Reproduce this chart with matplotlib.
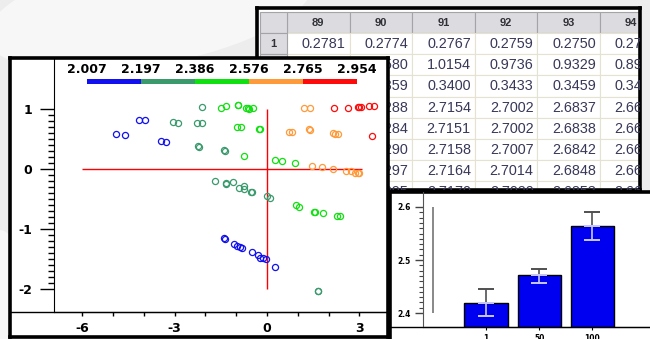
import numpy as np
import matplotlib
matplotlib.use("Agg")
from matplotlib import pyplot as plt, patches
from matplotlib.colors import ListedColormap, BoundaryNorm
from matplotlib.cm import ScalarMappable
from matplotlib.ticker import FixedLocator

plt.rcParams['font.family'] = 'DejaVu Sans'
plt.rcParams['axes.unicode_minus'] = False

# --- data -----------------------------------------------------------
# table (columns 89..94, rows 1..8)
table_cols = ['89', '90', '91', '92', '93', '94']
table_rows = ['1', '2', '3', '4', '5', '6', '7', '8']
col_89 = [0.2781, 1.1007, 0.3318, 2.7412, 2.7409, 2.7415, 2.7422, 2.7431]
col_90 = [0.2774, 1.0580, 0.3359, 2.7288, 2.7284, 2.7290, 2.7297, 2.7295]
col_91 = [0.2767, 1.0154, 0.3400, 2.7154, 2.7151, 2.7158, 2.7164, 2.7170]
col_92 = [0.2759, 0.9736, 0.3433, 2.7002, 2.7002, 2.7007, 2.7014, 2.7020]
col_93 = [0.2750, 0.9329, 0.3459, 2.6837, 2.6838, 2.6842, 2.6848, 2.6853]
col_94 = [0.2741, 0.8931, 0.3478, 2.6662, 2.6663, 2.6667, 2.6673, 2.6679]
table_vals = [col_89, col_90, col_91, col_92, col_93, col_94]

# scatter: colour class 0..4 follows the colour bar
cbar_bounds = [2.007, 2.197, 2.386, 2.576, 2.765, 2.954]
cbar_colors = ['#1010f0', '#3a9a6c', '#10e010', '#ff9a3a', '#ff0a0a']
pt_x = [-4.90, -4.60, -4.16, -3.98, -3.45, -3.28,
        -1.40, -1.38, -1.07, -0.97, -0.88, -0.80, -0.49, -0.30, -0.23, -0.14, -0.04, 0.27,
        -2.11, -3.04, -2.89, -2.29, -2.10, -2.23, -2.21, -1.39, -1.37, -1.68, -1.34, -1.33,
        -1.11, -0.92, -0.76, -0.75, -0.51, -0.49, -0.01, 0.10, 1.64, 1.66,
        -1.49, -1.33, -0.95, -0.93, -0.68, -0.61, -0.58, -0.47, -0.97, -0.84, -0.25, -0.23,
        -0.76, 0.26, 0.50, 0.91, 0.95, 1.04, 1.54, 1.56, 1.83, 2.27, 2.38,
        1.21, 1.41, 0.73, 0.80, 1.37, 1.39, 2.14, 2.22, 2.29, 1.46, 1.78, 2.14, 2.57, 2.73,
        2.87, 2.94, 2.98,
        2.18, 2.64, 2.94, 3.00, 3.05, 3.30, 3.49, 3.41]
pt_y = [0.59, 0.57, 0.82, 0.82, 0.48, 0.45,
        -1.14, -1.16, -1.24, -1.27, -1.29, -1.31, -1.38, -1.42, -1.48, -1.48, -1.50, -1.62,
        1.04, 0.79, 0.77, 0.77, 0.77, 0.39, 0.38, 0.32, 0.31, -0.19, -0.23, -0.25,
        -0.21, -0.31, -0.28, -0.33, -0.37, -0.38, -0.44, -0.47, -2.03, -2.03,
        1.03, 1.06, 1.08, 1.08, 1.02, 1.03, 1.01, 1.03, 0.71, 0.71, 0.68, 0.68,
        0.23, 0.16, 0.14, 0.10, -0.60, -0.62, -0.71, -0.71, -0.73, -0.78, -0.78,
        1.03, 1.03, 0.63, 0.63, 0.67, 0.66, 0.61, 0.59, 0.59, 0.06, 0.04, 0.00, -0.02, -0.02,
        -0.06, -0.06, -0.06,
        1.02, 1.02, 1.04, 1.04, 1.04, 1.06, 1.06, 0.55]
pt_lvl = [0] * 18 + [1] * 22 + [2] * 23 + [3] * 17 + [4] * 8

# bar chart
bar_labels = ['1', '50', '100']
bar_vals = [2.419, 2.472, 2.564]
err_up = [0.026, 0.011, 0.027]
err_dn = [0.025, 0.015, 0.026]

# --- layout helpers (pixel boxes) -----------------------------------
W, H = 650, 339
def box(x0, y0, x1, y1):
    return [x0 / W, 1 - y1 / H, (x1 - x0) / W, (y1 - y0) / H]

fig = plt.figure(figsize=(W / 100, H / 100), dpi=100)
fig.patch.set_facecolor('#ededed')

# soft background
bg = fig.add_axes([0, 0, 1, 1], zorder=0)
bg.set_xlim(0, W)
bg.set_ylim(H, 0)
bg.axis('off')
bg.add_patch(patches.Ellipse((150, 10), 330, 110, angle=-10, color='white', alpha=0.6, lw=0))
bg.add_patch(patches.Ellipse((0, 330), 60, 200, color='#f7f7f7', lw=0))

# --- table ----------------------------------------------------------
tab = fig.add_axes(box(257, 8, 640, 190), zorder=1)
tab.set_xlim(0, 383)
tab.set_ylim(182, 0)
tab.set_xticks([])
tab.set_yticks([])
for s in tab.spines.values():
    s.set_linewidth(2.6)
cw, rh, x0, y0 = 62.6, 21.2, 30, 25
for j, name in enumerate(table_cols):
    xc = x0 + j * cw
    tab.add_patch(patches.Rectangle((xc, 4), cw, y0 - 4, fc='#dcdce0', ec='#a4a4a8', lw=0.8))
    tab.text(xc + cw / 2, 14.5, name, ha='center', va='center', fontsize=8,
             family='Liberation Sans', weight='bold', color='#303038', clip_on=True)
    for i, v in enumerate(table_vals[j]):
        yr = y0 + i * rh
        tab.add_patch(patches.Rectangle((xc, yr), cw, rh, fc='white', ec='#e6e2d2', lw=0.8))
        tab.text(xc + cw - 4, yr + rh / 2 + 0.5, f'{v:.4f}', ha='right', va='center',
                 fontsize=10.4, family='Liberation Sans', color='#383858', clip_on=True)
tab.add_patch(patches.Rectangle((3, 4), x0 - 3, y0 - 4, fc='#dcdce0', ec='#a4a4a8', lw=0.8))
for i, r in enumerate(table_rows):
    yr = y0 + i * rh
    tab.add_patch(patches.Rectangle((3, yr), x0 - 3, rh, fc='#dcdce0', ec='#a4a4a8', lw=0.8))
    tab.text(16.5, yr + rh / 2, r, ha='center', va='center', fontsize=8,
             family='Liberation Sans', weight='bold', color='#303038', clip_on=True)

# --- scatter panel --------------------------------------------------
sfr = fig.add_axes(box(10, 58, 388, 337), zorder=2)
sfr.set_xticks([])
sfr.set_yticks([])
for s in sfr.spines.values():
    s.set_linewidth(2.6)

ax = fig.add_axes(box(54, 58, 388, 312), zorder=3)
ax.patch.set_alpha(0)
ax.set_xlim(-6.92, 3.93)
ax.set_ylim(-2.378, 1.855)
ax.spines['top'].set_visible(False)
ax.spines['right'].set_visible(False)
ax.plot([-44 / 334, 1], [0, 0], transform=ax.transAxes, color='black', lw=1, clip_on=False)

ax.hlines(0, -6, 3.1, color='red', lw=1)
ax.vlines(0, -2, 1, color='red', lw=1)
for lv in range(5):
    xs = [x for x, l in zip(pt_x, pt_lvl) if l == lv]
    ys = [y for y, l in zip(pt_y, pt_lvl) if l == lv]
    ax.plot(xs, ys, 'o', ms=4.4, mfc='none', mec=cbar_colors[lv], mew=0.9, clip_on=False)

ax.set_xticks([-6, -3, 0, 3])
ax.set_yticks([-2, -1, 0, 1])
ax.xaxis.set_minor_locator(FixedLocator(np.arange(-6, 4, 1)))
ax.yaxis.set_minor_locator(FixedLocator(np.arange(-2, 1.01, 0.1)))
ax.tick_params(axis='y', which='major', length=10, width=1, pad=5.5)
ax.tick_params(axis='y', which='minor', length=4.3, width=1)
ax.tick_params(axis='x', which='both', length=3, width=1, pad=4.3)
for lab in ax.get_xticklabels() + ax.get_yticklabels():
    lab.set_fontsize(9)
    lab.set_fontweight('bold')

cax = fig.add_axes(box(87, 79, 357, 84), zorder=4)
sm = ScalarMappable(norm=BoundaryNorm(cbar_bounds, 5), cmap=ListedColormap(cbar_colors))
cb = fig.colorbar(sm, cax=cax, orientation='horizontal', ticks=cbar_bounds)
cb.outline.set_visible(False)
cax.xaxis.set_ticks_position('top')
cax.tick_params(length=0, pad=2.2)
cax.set_xticklabels([f'{b:.3f}' for b in cbar_bounds], fontsize=9, fontweight='bold')

# --- bar panel ------------------------------------------------------
bfr = fig.add_axes(box(390, 192, 660, 350), zorder=5)
bfr.set_xticks([])
bfr.set_yticks([])
for s in bfr.spines.values():
    s.set_linewidth(2.6)

bx = fig.add_axes(box(423, 192, 650, 327), zorder=6)
bx.patch.set_alpha(0)
bx.set_xlim(-1.183, 3.08)
bx.set_ylim(2.3736, 2.6283)
bx.spines['top'].set_visible(False)
bx.spines['right'].set_visible(False)
bx.spines['left'].set_color('#555555')
bx.plot([-33 / 227, 1], [0, 0], transform=bx.transAxes, color='black', lw=1, clip_on=False)

pos = np.arange(len(bar_vals))
bx.bar(pos, [v - 2.3736 for v in bar_vals], bottom=2.3736, width=0.81,
       color='#0000f0', edgecolor='black', lw=1)
bx.errorbar(pos, bar_vals, yerr=[[0] * 3, err_up], fmt='none', ecolor='#505050',
            elinewidth=1.2, capsize=6, capthick=1.4)
bx.errorbar(pos, bar_vals, yerr=[err_dn, [0] * 3], fmt='none', ecolor='#c8c8ff',
            elinewidth=1.2, capsize=6, capthick=1.4)
bx.vlines(-1.0, 2.4, 2.6, color='#888888', lw=1.4)

bx.set_xticks(pos)
bx.set_xticklabels(bar_labels)
bx.set_yticks([2.4, 2.5, 2.6])
bx.yaxis.set_minor_locator(FixedLocator(np.arange(2.4, 2.6001, 0.01)))
bx.tick_params(axis='y', which='major', length=6, width=1, pad=3, color='#444444')
bx.tick_params(axis='y', which='minor', length=3, width=0.8, color='#444444')
bx.tick_params(axis='x', length=2.5, width=0.8, pad=2.5)
for lab in bx.get_xticklabels() + bx.get_yticklabels():
    lab.set_fontsize(5.5)
    lab.set_fontweight('bold')

fig.savefig('out.png', dpi=100, facecolor=fig.get_facecolor())
